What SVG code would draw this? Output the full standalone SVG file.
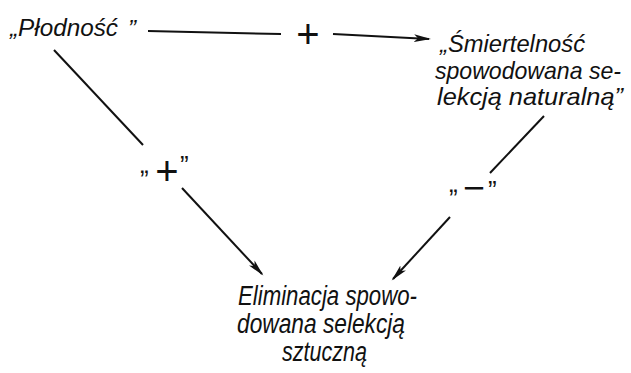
<svg xmlns="http://www.w3.org/2000/svg" width="631" height="373" viewBox="0 0 631 373">
<defs>
<style>
.t{font-family:"Liberation Sans",Arial,sans-serif;font-style:italic;font-size:27px;fill:#111}
.p{font-size:24px}
.s{font-family:"Liberation Sans",Arial,sans-serif;fill:#111}
.c{stroke:#111;stroke-width:2;fill:none}
</style>
<marker id="ah" markerUnits="userSpaceOnUse" markerWidth="20" markerHeight="10" viewBox="0 0 20 10" refX="15" refY="5" orient="auto">
<path d="M0,1.2 L17,5 L0,8.8 L4,5 Z" fill="#111"/>
</marker>
</defs>
<rect width="631" height="373" fill="#fff"/>
<g id="node-plodnosc">
<text class="t p" x="10" y="36" textLength="108" lengthAdjust="spacingAndGlyphs">„Płodność</text>
<text class="t p" x="128" y="37">”</text>
</g>
<g id="node-smiertelnosc">
<text class="t p" x="440" y="52" textLength="145" lengthAdjust="spacingAndGlyphs">„Śmiertelność</text>
<text class="t p" x="435" y="78.5" textLength="186" lengthAdjust="spacingAndGlyphs">spowodowana se-</text>
<text class="t p" x="437" y="105" textLength="186" lengthAdjust="spacingAndGlyphs">lekcją naturalną”</text>
</g>
<g id="node-eliminacja">
<text class="t" x="238" y="305" textLength="179" lengthAdjust="spacingAndGlyphs">Eliminacja spowo-</text>
<text class="t" x="237" y="333" textLength="168" lengthAdjust="spacingAndGlyphs">dowana selekcją</text>
<text class="t" x="282" y="361" textLength="85" lengthAdjust="spacingAndGlyphs">sztuczną</text>
</g>
<g id="connectors">
<path class="c" d="M148,31 L281,34"/>
<path class="c" d="M333,34 L429,38.9" marker-end="url(#ah)"/>
<text class="s" x="308" y="48" font-size="40" text-anchor="middle">+</text>
<path class="c" d="M54,50 L143,145"/>
<path class="c" d="M182,188 L262,274" marker-end="url(#ah)"/>
<text class="s" x="140" y="173" font-size="26">„</text>
<text class="s" x="167" y="185" font-size="40" text-anchor="middle">+</text>
<text class="s" x="180" y="174" font-size="26">”</text>
<path class="c" d="M544,116 L490,173"/>
<path class="c" d="M450,217 L393,279" marker-end="url(#ah)"/>
<text class="s" x="449" y="192" font-size="26">„</text>
<text class="s" x="463" y="200" font-size="36" textLength="22" lengthAdjust="spacingAndGlyphs">−</text>
<text class="s" x="488" y="199" font-size="26">”</text>
</g>
</svg>
